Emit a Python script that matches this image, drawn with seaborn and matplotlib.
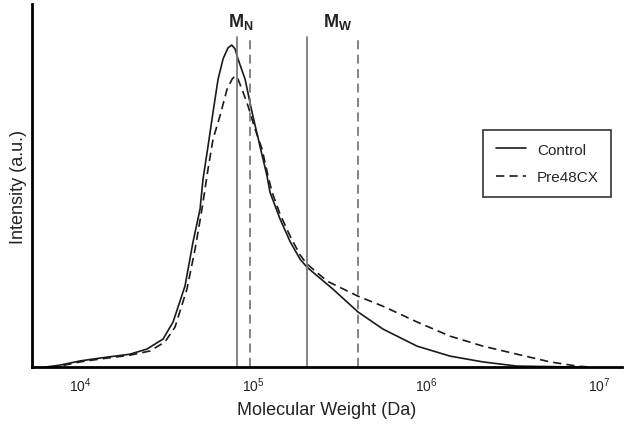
import numpy as np
import pandas as pd
import matplotlib
matplotlib.use("Agg")
import matplotlib.pyplot as plt
import seaborn as sns
from matplotlib.lines import Line2D

# ---- data ----
control_log_mw = [3.798, 3.884, 4.000, 4.116, 4.289, 4.387, 4.480, 4.538, 4.607, 4.653,
                  4.694, 4.711, 4.740, 4.769, 4.798, 4.827, 4.855, 4.877, 4.896, 4.913,
                  4.954, 4.994, 5.040, 5.081, 5.098, 5.156, 5.214, 5.272, 5.312, 5.462,
                  5.607, 5.751, 5.948, 6.139, 6.329, 6.526, 6.908]
control_int = [0.000, 0.006, 0.019, 0.028, 0.040, 0.056, 0.087, 0.140, 0.252, 0.388,
               0.491, 0.584, 0.686, 0.792, 0.894, 0.957, 0.991, 1.000, 0.988, 0.957,
               0.894, 0.792, 0.686, 0.593, 0.543, 0.460, 0.390, 0.335, 0.310, 0.242,
               0.171, 0.118, 0.065, 0.034, 0.016, 0.003, 0.000]

pre_log_mw = [3.827, 3.884, 4.000, 4.116, 4.289, 4.405, 4.491, 4.549, 4.618, 4.665,
              4.705, 4.740, 4.769, 4.809, 4.850, 4.879, 4.896, 4.913, 4.936, 4.971,
              5.012, 5.052, 5.087, 5.110, 5.156, 5.214, 5.272, 5.312, 5.428, 5.607,
              5.751, 5.948, 6.139, 6.329, 6.526, 6.717, 6.873, 6.948]
pre_int = [0.000, 0.003, 0.016, 0.025, 0.037, 0.050, 0.078, 0.124, 0.242, 0.366,
           0.491, 0.615, 0.708, 0.780, 0.863, 0.894, 0.904, 0.894, 0.863, 0.811,
           0.739, 0.677, 0.593, 0.543, 0.475, 0.407, 0.348, 0.320, 0.267, 0.220,
           0.189, 0.140, 0.096, 0.065, 0.040, 0.016, 0.003, 0.000]

sample_names = ["Control", "Pre48CX"]
mn_values = [80900, 96000]     # number-average MW
mw_values = [205000, 405000]   # weight-average MW
x_ticks = [1e4, 1e5, 1e6, 1e7]
x_tick_labels = ["$10^4$", "$10^5$", "$10^6$", "$10^7$"]

df = pd.concat([
    pd.DataFrame({"MW": 10 ** np.array(control_log_mw), "Intensity": control_int, "Sample": "Control"}),
    pd.DataFrame({"MW": 10 ** np.array(pre_log_mw), "Intensity": pre_int, "Sample": "Pre48CX"}),
])

sns.set_theme(style="white")
plt.rcParams["font.family"] = ["Liberation Sans", "DejaVu Sans"]
plt.rcParams["mathtext.fontset"] = "custom"
plt.rcParams["mathtext.rm"] = "Liberation Sans"
plt.rcParams["mathtext.it"] = "Liberation Sans"
plt.rcParams["mathtext.bf"] = "Liberation Sans:bold"

fig = plt.figure(figsize=(6.29, 4.27), dpi=100)
ax = fig.add_axes([0.051, 0.138, 0.938, 0.85])

dash_styles = {"Control": "", "Pre48CX": (5, 3)}
sns.lineplot(data=df, x="MW", y="Intensity", style="Sample", dashes=dash_styles,
             color="#1a1a1a", linewidth=1.2, ax=ax, legend=False, sort=True)

# Mn / Mw reference lines
line_styles = ["-", (0, (5, 3))]
for i in range(2):
    ax.axvline(mn_values[i], ymin=0, ymax=0.91, color="#7a7a7a", lw=1.3, linestyle=line_styles[i])
    ax.axvline(mw_values[i], ymin=0, ymax=0.91, color="#7a7a7a", lw=1.3, linestyle=line_styles[i])

ax.set_xscale("log")
ax.set_xlim(10 ** 3.723, 10 ** 7.133)
ax.set_ylim(0, 1.127)
ax.set_xticks(x_ticks)
ax.set_xticklabels(x_tick_labels, fontsize=10, color="#222222")
ax.xaxis.set_minor_locator(matplotlib.ticker.NullLocator())
ax.tick_params(axis="x", length=0, pad=6)
ax.set_yticks([])

ax.set_xlabel("Molecular Weight (Da)", fontsize=13, color="#222222", labelpad=5)
ax.set_ylabel("Intensity (a.u.)", fontsize=13, color="#222222", labelpad=4)

for side in ["top", "right"]:
    ax.spines[side].set_visible(False)
for side in ["left", "bottom"]:
    ax.spines[side].set_color("black")
    ax.spines[side].set_linewidth(2.0)

ax.text(10 ** 4.93, 1.075, "M$_\\mathbf{N}$", ha="center", va="center",
        fontsize=13, fontweight="bold", color="#222222")
ax.text(10 ** 5.49, 1.075, "M$_\\mathbf{W}$", ha="center", va="center",
        fontsize=13, fontweight="bold", color="#222222")

handles = [Line2D([0], [0], color="#1a1a1a", lw=1.2, linestyle="-"),
           Line2D([0], [0], color="#1a1a1a", lw=1.2, linestyle=(0, (5, 3)))]
leg = ax.legend(handles, sample_names, loc="upper left", bbox_to_anchor=(0.765, 0.652),
                frameon=True, fancybox=False, edgecolor="black", fontsize=11,
                handlelength=2.0, handletextpad=0.7, borderpad=0.8, labelspacing=0.9,
                borderaxespad=0)
leg.get_frame().set_linewidth(1.2)

fig.savefig("out.png", dpi=100)
